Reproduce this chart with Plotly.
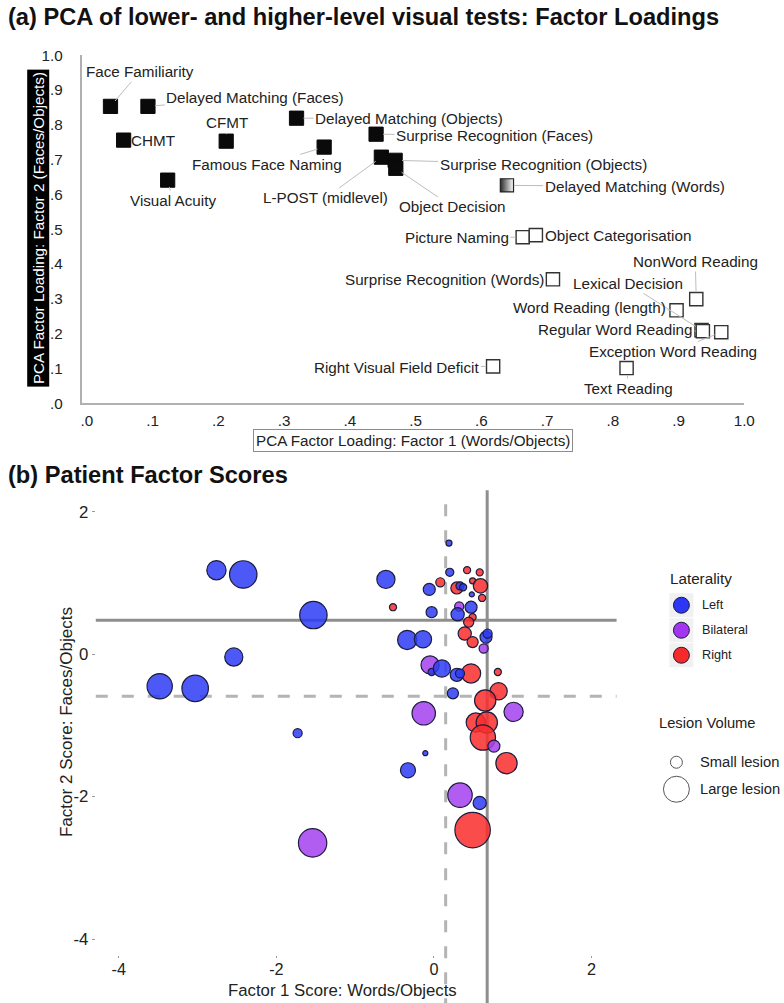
import plotly.graph_objects as go

W, H = 784, 1003
FONT = "Liberation Sans, Arial, sans-serif"

# the photographed page is slightly rescaled; positions below are given in
# target picture pixels and converted to page coordinates here
SX, SY, OY = 0.987, 0.983, 8.8
F = 1 / 0.985


def px(x):
    return (x / SX) / W


def py(y):
    return 1 - ((y - OY) / SY) / H


def fs(s):
    return s * F


# ---------------- Panel (a): factor loadings ----------------
tests = [
    "Face Familiarity", "Delayed Matching (Faces)", "CHMT", "CFMT", "Visual Acuity",
    "Delayed Matching (Objects)", "Famous Face Naming", "Surprise Recognition (Faces)",
    "L-POST (midlevel)", "Surprise Recognition (Objects)", "Object Decision",
    "Delayed Matching (Words)",
    "Picture Naming", "Object Categorisation", "Surprise Recognition (Words)",
    "NonWord Reading", "Lexical Decision", "Word Reading (length)",
    "Regular Word Reading", "Exception Word Reading", "Right Visual Field Deficit",
    "Text Reading",
]
factor1_loading = [0.036, 0.093, 0.056, 0.212, 0.123, 0.319, 0.361, 0.440, 0.448, 0.469, 0.470,
                   0.639,
                   0.663, 0.683, 0.709, 0.927, 0.935, 0.897, 0.937, 0.965, 0.618, 0.821]
factor2_loading = [0.853, 0.853, 0.756, 0.753, 0.641, 0.819, 0.736, 0.773, 0.707, 0.698, 0.675,
                   0.626,
                   0.477, 0.483, 0.356, 0.299, 0.210, 0.267, 0.207, 0.204, 0.106, 0.101]
test_group = ["face/object"] * 11 + ["mixed"] + ["word"] * 10
loading_ticks = [0.0, 0.1, 0.2, 0.3, 0.4, 0.5, 0.6, 0.7, 0.8, 0.9, 1.0]
loading_ticktext = [".0", ".1", ".2", ".3", ".4", ".5", ".6", ".7", ".8", ".9", "1.0"]

# label offsets (pixels) – layout only
label_ax = [29, 106, 29, 1, 5, 111, -56, 117, -55, 146, 56, 126, -65, 81, -107, -1, -73, -86, -86, -48, -95, 2]
label_ay = [-34, -9, 0, -18, 20, 0, 17, 1, 40, 4, 38, 1, 0, 0, 0, -37, -46, -3, -2, 19, 1, 20]

# ---------------- Panel (b): patient factor scores ----------------
left_f1 = [-2.76, -2.42, -1.53, -2.54, -3.48, -3.03, -0.61, -1.73, 0.19, 0.20, -0.06, 0.33, 0.37, 0.48,
           -0.03, 0.47, 0.30, 0.66, 0.68, -0.34, -0.14, -0.03, 0.10, 0.29, 0.33, 0.24, -0.11, -0.33, 0.58]
left_f2 = [1.18, 1.12, 0.55, -0.04, -0.45, -0.48, 1.05, -1.11, 1.56, 1.15, 0.91, 0.96, 0.94, 0.84,
           0.59, 0.66, 0.56, 0.24, 0.29, 0.20, 0.21, -0.25, -0.20, -0.29, -0.27, -0.55, -1.39, -1.63, -2.09]
left_vol = [36, 73, 73, 32, 62, 68, 32, 8, 3.6, 6.4, 14, 6.4, 4.9, 2.5,
            12, 14, 17, 14, 8, 36, 29, 4.9, 29, 17, 8, 12, 2.5, 22, 17]

bilat_f1 = [-1.54, 0.32, 0.63, -0.05, -0.13, 1.01, 0.76, 0.33]
bilat_f2 = [-2.65, 0.67, 0.08, -0.15, -0.83, -0.81, -1.29, -1.98]
bilat_vol = [78, 8, 8, 32, 53, 36, 14, 58]

right_f1 = [0.42, 0.58, 0.08, 0.29, 0.49, 0.59, 0.61, -0.52, 0.49, 0.44, 0.39, 0.49, 0.47, 0.81,
            0.82, 0.65, 0.53, 0.67, 0.62, 0.92, 0.49]
right_f2 = [1.18, 1.15, 1.01, 0.93, 1.03, 0.96, 0.79, 0.66, 0.52, 0.45, 0.29, 0.17, -0.27, -0.25,
            -0.52, -0.65, -0.96, -0.96, -1.17, -1.53, -2.47]
right_vol = [4.9, 4.9, 8, 14, 3.6, 20, 4.9, 4.9, 4.9, 10, 17, 12, 36, 4.9,
             29, 44, 36, 44, 62, 44, 122]

cutoff_f1_solid, cutoff_f1_dashed = 0.675, 0.148
cutoff_f2_solid, cutoff_f2_dashed = 0.478, -0.59
score_ticks = [-4, -2, 0, 2]
score_ticktext = ["-4", "-2", "0", "2"]

fig = go.Figure()

# ----- panel (a) traces
styles = {
    "face/object": dict(symbol="square", size=fs(14), color="#0a0a0a", line=dict(color="#0a0a0a", width=1)),
    "mixed": dict(symbol="square", size=fs(13), color="#2a2a2a", line=dict(color="#222", width=1.2),
                  gradient=dict(type="horizontal", color="#ffffff")),
    "word": dict(symbol="square", size=fs(13), color="#ffffff", line=dict(color="#333", width=1.4)),
}
for g in ["face/object", "mixed", "word"]:
    idx = [i for i, t in enumerate(test_group) if t == g]
    fig.add_trace(go.Scatter(
        x=[factor1_loading[i] for i in idx], y=[factor2_loading[i] for i in idx],
        mode="markers", marker=styles[g], xaxis="x", yaxis="y", showlegend=False,
        hovertext=[tests[i] for i in idx], hoverinfo="text"))

# ----- panel (b) traces
bubble_line = dict(color="#1c1c3c", width=1.2)
for f1, f2, vol, col in [
    (right_f1, right_f2, right_vol, "rgba(250,45,45,0.85)"),
    (bilat_f1, bilat_f2, bilat_vol, "rgba(165,65,240,0.85)"),
    (left_f1, left_f2, left_vol, "rgba(45,60,245,0.85)"),
]:
    fig.add_trace(go.Scatter(
        x=f1, y=f2, mode="markers", xaxis="x2", yaxis="y2", showlegend=False,
        marker=dict(size=vol, sizemode="area", sizeref=0.2 / F ** 2, color=col, opacity=1,
                    line=bubble_line)))

annotations = []
for i, name in enumerate(tests):
    annotations.append(dict(
        x=factor1_loading[i], y=factor2_loading[i], xref="x", yref="y",
        text=name, showarrow=True, ax=label_ax[i] / SX, ay=label_ay[i] / SY,
        arrowhead=0, arrowwidth=1, arrowcolor="#bdbdbd", standoff=7,
        font=dict(size=fs(15), color="#222", family=FONT)))


def note(x, y, text, size, xanchor="center", **kw):
    d = dict(x=px(x), y=py(y), xref="paper", yref="paper", xanchor=xanchor, yanchor="middle",
             text=text, showarrow=False,
             font=dict(size=fs(size), color=kw.pop("color", "#222"), family=FONT))
    d.update(kw)
    return d


annotations += [
    note(5, 17, "<b>(a) PCA of lower- and higher-level visual tests: Factor Loadings</b>", 23.3,
         xanchor="left", color="#111"),
    note(5, 475, "<b>(b) Patient Factor Scores</b>", 23.3, xanchor="left", color="#111"),
    note(37, 228, "PCA Factor Loading: Factor 2 (Faces/Objects)", 15, textangle=-90,
         bgcolor="#000", borderpad=2, color="#fff"),
    note(413, 440, "PCA Factor Loading: Factor 1 (Words/Objects)", 15,
         bgcolor="#fff", bordercolor="#8c8c8c", borderwidth=1, borderpad=2),
    note(342, 990, "Factor 1 Score: Words/Objects", 16.5),
    note(65, 722, "Factor 2 Score: Faces/Objects", 16.8, textangle=-90),
    note(669, 578, "Laterality", 15, xanchor="left"),
    note(658, 723, "Lesion Volume", 14.5, xanchor="left"),
]
for name, yy in [("Left", 605), ("Bilateral", 630), ("Right", 655)]:
    annotations.append(note(701, yy, name, 12.5, xanchor="left"))
for name, yy in [("Small lesion", 762), ("Large lesion", 789)]:
    annotations.append(note(699, yy, name, 14.5, xanchor="left"))

shapes = [
    dict(type="line", xref="x2", yref="paper", x0=cutoff_f1_solid, x1=cutoff_f1_solid,
         y0=py(1010), y1=py(490), line=dict(color="#8e8e8e", width=3), layer="below"),
    dict(type="line", xref="x2", yref="paper", x0=cutoff_f1_dashed, x1=cutoff_f1_dashed,
         y0=py(1010), y1=py(490), line=dict(color="#b4b4b4", width=3, dash="12px,14px"), layer="below"),
    dict(type="line", xref="paper", yref="y2", x0=px(95), x1=px(617), y0=cutoff_f2_solid,
         y1=cutoff_f2_solid, line=dict(color="#8e8e8e", width=3), layer="below"),
    dict(type="line", xref="paper", yref="y2", x0=px(95), x1=px(617), y0=cutoff_f2_dashed,
         y1=cutoff_f2_dashed, line=dict(color="#b4b4b4", width=3, dash="12px,14px"), layer="below"),
]


def circ(cx, cy, d, fill, line):
    return dict(type="circle", xref="paper", yref="paper",
                x0=px(cx - d / 2), x1=px(cx + d / 2), y0=py(cy + d / 2), y1=py(cy - d / 2),
                fillcolor=fill, line=line)


for yy, col in [(605, "#2b37f5"), (630, "#a335f0"), (655, "#f52a2a")]:
    shapes.append(dict(type="rect", xref="paper", yref="paper", x0=px(670), x1=px(694),
                       y0=py(yy + 12), y1=py(yy - 12), fillcolor="#f1f1f1", line=dict(width=0)))
    shapes.append(circ(682, yy, 16, col, dict(color="#1c1c3c", width=1)))
shapes.append(circ(677, 762, 12, "#fff", dict(color="#555", width=1)))
shapes.append(circ(677, 789, 26, "#fff", dict(color="#555", width=1)))

fig.update_layout(
    width=W, height=H, margin=dict(l=0, r=0, t=0, b=0),
    paper_bgcolor="#fff", plot_bgcolor="#fff",
    font=dict(family=FONT, color="#222"),
    xaxis=dict(domain=[px(81), px(745)], range=[-0.0076, 1.0], showgrid=False, zeroline=False,
               showline=True, linecolor="#b0b0b0", linewidth=2,
               tickvals=loading_ticks, ticktext=loading_ticktext, ticks="outside", ticklen=3,
               tickcolor="rgba(0,0,0,0)", tickfont=dict(size=fs(15), color="#222")),
    yaxis=dict(domain=[py(403), py(55)], range=[0, 1.0], showgrid=False, zeroline=False,
               showline=True, linecolor="#b0b0b0", linewidth=2,
               tickvals=loading_ticks, ticktext=loading_ticktext, ticks="outside", ticklen=14,
               tickcolor="rgba(0,0,0,0)", tickfont=dict(size=fs(15), color="#222")),
    xaxis2=dict(domain=[px(95), px(615)], range=[-4.291, 2.291], anchor="y2", showgrid=False,
                zeroline=False, showline=False, tickvals=score_ticks, ticktext=score_ticktext,
                ticks="outside", ticklen=2, tickcolor="#999", ticklabelstandoff=-3,
                tickfont=dict(size=fs(16), color="#222")),
    yaxis2=dict(domain=[py(955), py(490)], range=[-4.228, 2.303], anchor="x2", showgrid=False,
                zeroline=False, showline=False, tickvals=score_ticks, ticktext=score_ticktext,
                ticks="outside", ticklen=3, tickcolor="#999", tickfont=dict(size=fs(16.5), color="#222")),
    annotations=annotations, shapes=shapes,
)

fig.write_html(
    "out.html",
    config={"displayModeBar": False},
    post_script=(
        "document.documentElement.style.margin='0px';"
        "document.documentElement.style.overflow='hidden';"
        "document.body.style.margin='0px';document.body.style.padding='0px';"
        "document.body.style.overflow='hidden';"
        "var gd=document.getElementsByClassName('plotly-graph-div')[0];"
        "gd.style.position='fixed';gd.style.left='0px';gd.style.top='0px';"
    ),
)
